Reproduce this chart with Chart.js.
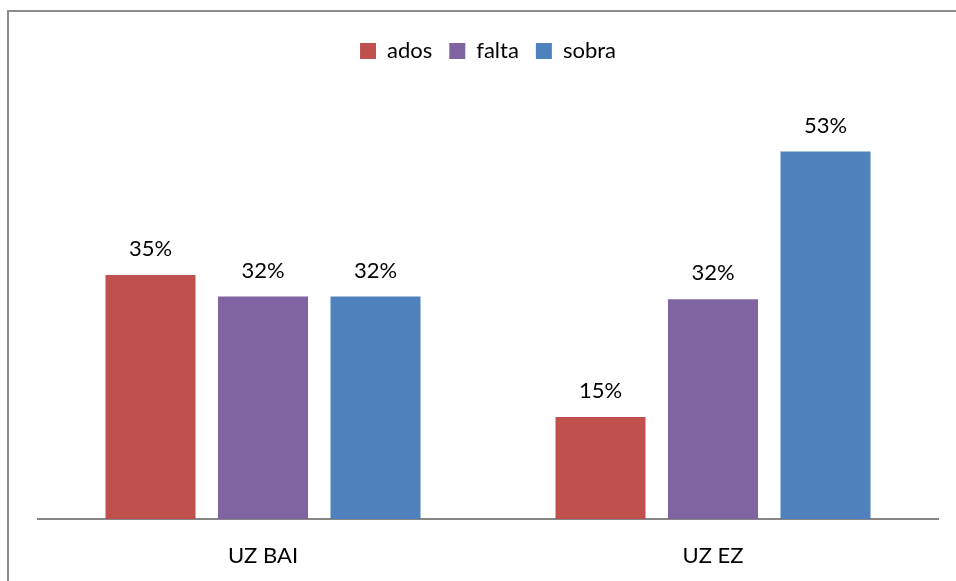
<!DOCTYPE html>
<html>
<head>
<meta charset="utf-8">
<script src="https://cdn.jsdelivr.net/npm/chart.js@4"></script>
<style>
  html, body { margin: 0; padding: 0; background: #fff; }
  #wrap { position: relative; width: 956px; height: 581px; overflow: hidden; }
  #frame { position: absolute; left: 7px; top: 10px; width: 1000px; height: 700px;
           border: 2px solid #8c8c8c; box-sizing: border-box; }
  canvas { position: absolute; left: 0; top: 0; }
</style>
</head>
<body>
<div id="wrap">
  <div id="frame"></div>
  <canvas id="chart" width="956" height="581"></canvas>
</div>
<script>
// values (percent)
const categories = ["UZ BAI", "UZ EZ"];
const ados  = [35.2, 14.7];
const falta = [32.1, 31.7];
const sobra = [32.1, 53.0];

const FONT = "Lato, 'Open Sans', sans-serif";

// draws "NN%" above each bar
const barLabels = {
    id: "barLabels",
    afterDatasetsDraw(chart) {
        const ctx = chart.ctx;
        ctx.save();
        ctx.font = "22px " + FONT;
        ctx.fillStyle = "#000";
        ctx.textAlign = "center";
        ctx.textBaseline = "middle";
        chart.data.datasets.forEach((ds, i) => {
            chart.getDatasetMeta(i).data.forEach((bar, j) => {
                ctx.fillText(Math.round(ds.data[j]) + "%", bar.x, bar.y - 26);
            });
        });
        ctx.restore();
    }
};

// fixed legend height so the plot starts below it
const legendHeight = {
    id: "legendHeight",
    beforeInit(chart) {
        const fit = chart.legend.fit;
        chart.legend.fit = function () {
            fit.bind(chart.legend)();
            this.height = 80;
        };
    }
};

new Chart(document.getElementById("chart"), {
    type: "bar",
    data: {
        labels: categories,
        datasets: [
            { label: "ados",  data: ados,  backgroundColor: "#C0504D" },
            { label: "falta", data: falta, backgroundColor: "#8064A2" },
            { label: "sobra", data: sobra, backgroundColor: "#4F81BD" }
        ]
    },
    options: {
        responsive: false,
        animation: false,
        layout: { padding: { top: 23, left: 38, right: 18, bottom: 0 } },
        datasets: { bar: { categoryPercentage: 0.75, barPercentage: 0.8 } },
        plugins: {
            tooltip: { enabled: false },
            legend: {
                position: "top",
                labels: {
                    boxWidth: 16,
                    boxHeight: 16,
                    padding: 17,
                    color: "#000",
                    font: { family: FONT, size: 22 }
                }
            }
        },
        scales: {
            x: {
                grid: { display: false },
                border: { display: true, color: "#868686", width: 2 },
                ticks: { color: "#000", padding: 16, font: { family: FONT, size: 22 } },
                afterFit(scale) { scale.height = 62; }
            },
            y: {
                display: false,
                min: 0,
                max: 60
            }
        }
    },
    plugins: [barLabels, legendHeight]
});
</script>
</body>
</html>
